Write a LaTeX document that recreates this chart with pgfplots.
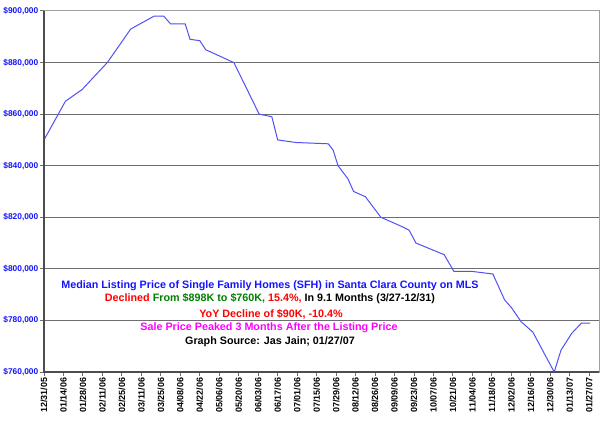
\documentclass[border=0pt]{standalone}
\usepackage{pgfplots}
\pgfplotsset{compat=1.18}
\usepackage{fontspec}
\setmainfont{Liberation Sans}
\definecolor{lineblue}{RGB}{80,80,245}
\definecolor{gridgray}{RGB}{110,110,110}
\definecolor{bordergray}{RGB}{160,160,160}
\definecolor{txtgreen}{RGB}{0,128,0}
\definecolor{txtblue}{RGB}{20,20,255}
\definecolor{txtmagenta}{RGB}{255,0,255}
\begin{document}
\begin{tikzpicture}
\useasboundingbox (0bp,0bp) rectangle (600bp,425bp);
\begin{axis}[
  at={(44bp,53bp)}, anchor=south west,
  scale only axis, width=555bp, height=361bp,
  xmin=0, xmax=57, ymin=760000, ymax=900000,
  ytick={760000,780000,800000,820000,840000,860000,880000,900000},
  yticklabels={{\$760,000},{\$780,000},{\$800,000},{\$820,000},{\$840,000},{\$860,000},{\$880,000},{\$900,000}},
  xtick={0,2,...,56},
  xticklabels={12/31/05,01/14/06,01/28/06,02/11/06,02/25/06,03/11/06,03/25/06,04/08/06,04/22/06,05/06/06,05/20/06,06/03/06,06/17/06,07/01/06,07/15/06,07/29/06,08/12/06,08/26/06,09/09/06,09/23/06,10/07/06,10/21/06,11/04/06,11/18/06,12/02/06,12/16/06,12/30/06,01/13/07,01/27/07},
  ymajorgrids, grid style={gridgray, line width=1bp},
  axis line style={bordergray, line width=1bp},
  tick align=outside, major tick length=4bp,
  tick style={gridgray, line width=1bp},
  xtick pos=bottom, ytick pos=left,
  x tick label style={rotate=90, anchor=east, inner sep=1.5bp, font=\bfseries\fontsize{9}{10}\selectfont},
  y tick label style={inner sep=1.5bp, text=txtblue, font=\bfseries\fontsize{8.4}{10}\selectfont},
  clip=false,
]
\addplot[lineblue, line width=1bp, mark=none] coordinates {
(0, 850000) (2.2, 865000) (3.9, 869500) (6.5, 880000) (7.8, 887000)
(8.9, 893000) (11.3, 898000) (12.3, 898000) (13.0, 895000) (14.5, 895000)
(15.0, 889000) (16.0, 888500) (16.6, 885000) (19.5, 880000) (22.1, 860000)
(23.4, 859000) (24.0, 850000) (25.9, 849000) (29.2, 848500) (29.7, 846000)
(30.2, 840000) (31.2, 835000) (31.8, 830000) (33.0, 828000) (34.6, 820000)
(36.7, 816500) (37.5, 815000) (38.2, 810000) (41.1, 805500) (42.1, 799000)
(44.0, 799000) (46.1, 798000) (47.3, 788000) (48.0, 785000) (49.0, 779500)
(50.2, 775500) (52.4, 760000) (53.1, 768500) (54.2, 775000) (55.2, 779000)
(56.1, 779000)
};
\draw[gridgray!70!black, line width=1.3bp] (axis cs:0,900000) -- (axis cs:0,760000) -- (axis cs:57,760000);
\end{axis}
\begin{scope}[every node/.style={font=\bfseries\fontsize{10.8}{12}\selectfont, inner sep=0pt}]
\node[text=txtblue] at (270bp,139bp) {Median Listing Price of Single Family Homes (SFH) in Santa Clara County on MLS};
\node at (270bp,126bp) {{\color{red}Declined} {\color{txtgreen}From \$898K to \$760K,} {\color{red}15.4\%,} In 9.1 Months (3/27-12/31)};
\node[text=red] at (271bp,111bp) {YoY Decline of \$90K, -10.4\%};
\node[text=txtmagenta] at (269bp,97bp) {Sale Price Peaked 3 Months After the Listing Price};
\node at (270bp,83bp) {Graph Source: Jas Jain; 01/27/07};
\end{scope}
\end{tikzpicture}
\end{document}
